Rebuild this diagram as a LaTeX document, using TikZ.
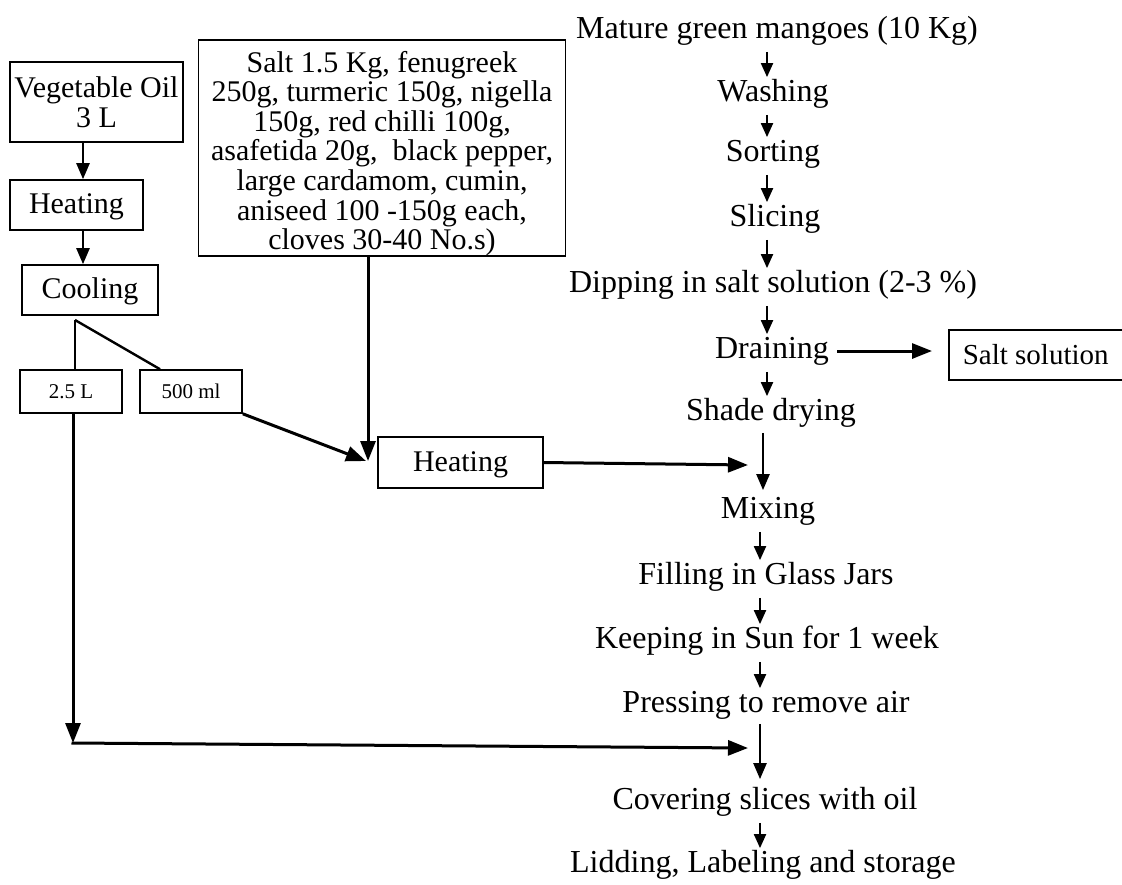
\documentclass[tikz,border=0pt]{standalone}
\usepackage{fontspec}
\setmainfont{Liberation Serif}
\usetikzlibrary{arrows.meta}
\begin{document}
\begin{tikzpicture}[x=0.5pt,y=-0.5pt,
  box/.style={draw, line width=0.8pt, align=center, inner sep=0pt, font=\fontsize{15}{14.8}\selectfont},
  smallbox/.style={box, font=\fontsize{10.5}{12}\selectfont},
  stage/.style={inner sep=0pt, text height=11pt, text depth=3.5pt, font=\fontsize{16}{18}\selectfont},
  sarrow/.style={line width=1pt, -{Triangle[length=7pt,width=6pt]}, shorten <=3pt, shorten >=1pt},
  marrow/.style={line width=1.2pt, -{Triangle[length=8pt,width=6.5pt]}},
  larrow/.style={line width=1.5pt, -{Triangle[length=10pt,width=7.5pt]}},
  link/.style={line width=1.2pt}]
\useasboundingbox (0,0) rectangle (1122,884);

% main flow
\node[stage] (mat) at (777,31) {Mature green mangoes (10 Kg)};
\node[stage] (wash) at (773,94) {Washing};
\node[stage] (sort) at (773,154) {Sorting};
\node[stage] (slic) at (775,219) {Slicing};
\node[stage] (dip) at (773,285) {Dipping in salt solution (2-3 \%)};
\node[stage] (drain) at (772,351) {Draining};
\node[stage] (shade) at (771,413) {Shade drying};
\node[stage] (mix) at (768,511) {Mixing};
\node[stage] (fill) at (766,577) {Filling in Glass Jars};
\node[stage] (keep) at (767,641) {Keeping in Sun for 1 week};
\node[stage] (press) at (766,705) {Pressing to remove air};
\node[stage] (cover) at (765,802) {Covering slices with oil};
\node[stage] (lid) at (763,865) {Lidding, Labeling and storage};

\coordinate (v1) at (767,0);
\coordinate (v2) at (763,0);
\coordinate (v3) at (760,0);
\draw[sarrow] (mat.south -| v1) -- (wash.north -| v1);
\draw[sarrow] (wash.south -| v1) -- (sort.north -| v1);
\draw[sarrow] (sort.south -| v1) -- (slic.north -| v1);
\draw[sarrow] (slic.south -| v1) -- (dip.north -| v1);
\draw[sarrow] (dip.south -| v1) -- (drain.north -| v1);
\draw[sarrow] (drain.south -| v1) -- (shade.north -| v1);
\draw[marrow, shorten <=2.5pt, shorten >=3pt] (shade.south -| v2) -- (mix.north -| v2);
\draw[sarrow] (mix.south -| v3) -- (fill.north -| v3);
\draw[sarrow] (fill.south -| v3) -- (keep.north -| v3);
\draw[sarrow] (keep.south -| v3) -- (press.north -| v3);
\draw[marrow, shorten <=2pt, shorten >=4pt] (press.south -| v3) -- (cover.north -| v3);
\draw[sarrow] (cover.south -| v3) -- (lid.north -| v3);

% salt solution
\node[box, anchor=west, minimum height=25pt, font=\fontsize{14.5}{16}\selectfont] (salt) at (948,355) {\hspace{7pt}Salt solution\hspace{16pt}};
\draw[larrow, shorten <=4pt, shorten >=8pt] (drain.east) -- (salt.west |- drain.east);

% left side
\node[box, minimum width=86.5pt, minimum height=40pt] (veg) at (96.5,102) {Vegetable Oil\\3 L};
\node[box, minimum width=66.5pt, minimum height=25pt] (heat1) at (76.5,205) {\rule{0pt}{12pt}Heating};
\node[box, minimum width=68pt, minimum height=25pt] (cool) at (90,290) {\rule{0pt}{12pt}Cooling};
\coordinate (c83) at (83,0);
\draw[marrow] (veg.south -| c83) -- (heat1.north -| c83);
\draw[marrow] (heat1.south -| c83) -- (cool.north -| c83);

\node[smallbox, minimum width=51pt, minimum height=21.5pt] (l25) at (71,391.5) {2.5 L};
\node[smallbox, minimum width=51pt, minimum height=21.5pt] (ml) at (191,391.5) {500 ml};
\coordinate (sp) at (75,320);
\coordinate (c160) at (160,0);
\draw[link] (sp) -- (l25.north -| sp);
\draw[link] (sp) -- (ml.north -| c160);

\node[box, minimum width=183.5pt, minimum height=104.5pt] (big) at (382,148) {\rule{0pt}{16pt}Salt 1.5 Kg, fenugreek\\250g, turmeric 150g, nigella\\150g, red chilli 100g,\\asafetida 20g,\ \ black pepper,\\large cardamom, cumin,\\aniseed 100 -150g each,\\cloves 30-40 No.s)};

\node[box, minimum width=82.5pt, minimum height=25.5pt] (heat2) at (460.5,462.5) {\rule{0pt}{12pt}Heating};
\coordinate (m0) at (366,461);
\coordinate (c368) at (368,0);
\draw[larrow] (big.south -| c368) -- (m0 -| c368);
\draw[larrow] (ml.south east) -- (m0);

\coordinate (m1) at (748,465);
\draw[larrow] (heat2.east) -- (m1);

% 2.5 L to covering
\coordinate (corner) at (73,743);
\coordinate (m2) at (748,748);
\draw[larrow] (l25.south -| corner) -- (corner);
\draw[larrow, shorten <=-0.75pt] (corner) -- (m2);
\end{tikzpicture}
\end{document}
